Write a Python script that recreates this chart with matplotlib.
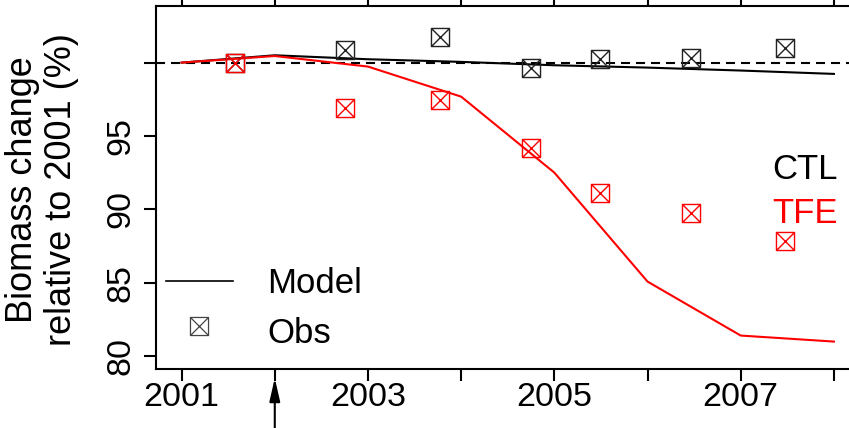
import matplotlib
matplotlib.use("Agg")
import matplotlib.pyplot as plt
from matplotlib.lines import Line2D
from matplotlib.path import Path

# model output, one value per year
years = [2001, 2002, 2003, 2004, 2005, 2006, 2007, 2008]
ctl_model = [100.0, 100.5, 100.23, 100.05, 99.82, 99.66, 99.46, 99.23]
tfe_model = [100.0, 100.45, 99.73, 97.68, 92.5, 85.07, 81.39, 80.98]

# field observations
obs_years = [2001.57, 2002.75, 2003.77, 2004.75, 2005.49, 2006.47, 2007.48]
ctl_obs = [100.0, 100.86, 101.78, 99.62, 100.25, 100.3, 100.98]
tfe_obs = [100.0, 96.93, 97.43, 94.16, 91.14, 89.77, 87.87]

x_ticks = [2001, 2002, 2003, 2004, 2005, 2006, 2007, 2008]
x_labels = ["2001", "", "2003", "", "2005", "", "2007", ""]
y_ticks = [80, 85, 90, 95, 100]
y_labels = ["80", "85", "90", "95", ""]

RED = "#ff0000"
W, H = 849, 428

plt.rcParams["font.family"] = ["Liberation Sans", "DejaVu Sans"]
plt.rcParams["lines.scale_dashes"] = False

# square with a cross inside (R pch = 7)
box_x = Path(
    [(-1, -1), (1, -1), (1, 1), (-1, 1), (-1, -1), (-1, -1), (1, 1), (-1, 1), (1, -1)],
    [Path.MOVETO, Path.LINETO, Path.LINETO, Path.LINETO, Path.CLOSEPOLY,
     Path.MOVETO, Path.LINETO, Path.MOVETO, Path.LINETO],
)

fig = plt.figure(figsize=(W / 100, H / 100), dpi=100)
left, right, top, bottom = 155.5, 860.0, 6.0, 369.0
ax = fig.add_axes([left / W, 1 - bottom / H, (right - left) / W, (bottom - top) / H])

ax.axhline(100, color="black", lw=1.5, dashes=(6.5, 4.3), zorder=1)
ax.plot(years, ctl_model, color="black", lw=1.5, zorder=2)
ax.plot(years, tfe_model, color=RED, lw=1.5, zorder=3)
ax.plot(obs_years, ctl_obs, ls="none", marker=box_x, ms=13, mfc="none",
        mec="#222222", mew=1.0, zorder=4)
ax.plot(obs_years, tfe_obs, ls="none", marker=box_x, ms=13, mfc="none",
        mec=RED, mew=1.0, zorder=5)

ax.set_xlim(2000.72, 2008.28)
ax.set_ylim(79.11, 103.86)
ax.set_xticks(x_ticks)
ax.set_xticklabels(x_labels)
ax.set_yticks(y_ticks)
ax.set_yticklabels(y_labels, rotation=90, va="center")
ax.tick_params(direction="out", length=8.6, width=1.5, labelsize=24.5, top=True)
ax.tick_params(axis="x", pad=1)
ax.tick_params(axis="y", pad=5)
for side in ["left", "bottom", "top", "right"]:
    ax.spines[side].set_linewidth(1.5)

fig.text(42 / W, 1 - 190 / H, "Biomass change\nrelative to 2001 (%)", rotation=90,
         ha="center", va="center", fontsize=26, linespacing=1.15, multialignment="center")

# treatment start
ax.annotate("", xy=(2002, -0.025), xycoords=ax.get_xaxis_transform(),
            xytext=(2002, -0.25), textcoords=ax.get_xaxis_transform(),
            arrowprops=dict(arrowstyle="-|>,head_length=1.4,head_width=0.32",
                            mutation_scale=10, lw=1.5, color="black",
                            shrinkA=0, shrinkB=0),
            annotation_clip=False)

# legend keys
fig.add_artist(Line2D([165.7 / W, 232.7 / W], [1 - 280.7 / H] * 2, color="black", lw=1.2,
                      transform=fig.transFigure))
fig.add_artist(Line2D([199.3 / W], [1 - 326 / H], ls="none", marker=box_x, ms=13, mfc="none",
                      mec="#444444", mew=0.9, transform=fig.transFigure))
fig.text(267.5 / W, 1 - 293.3 / H, "Model", fontsize=25, va="baseline")
fig.text(267.5 / W, 1 - 342.7 / H, "Obs", fontsize=25, va="baseline")
fig.text(772.7 / W, 1 - 179 / H, "CTL", fontsize=25, va="baseline", color="black")
fig.text(772.7 / W, 1 - 222.7 / H, "TFE", fontsize=25, va="baseline", color=RED)

fig.savefig("out.png", dpi=100)
